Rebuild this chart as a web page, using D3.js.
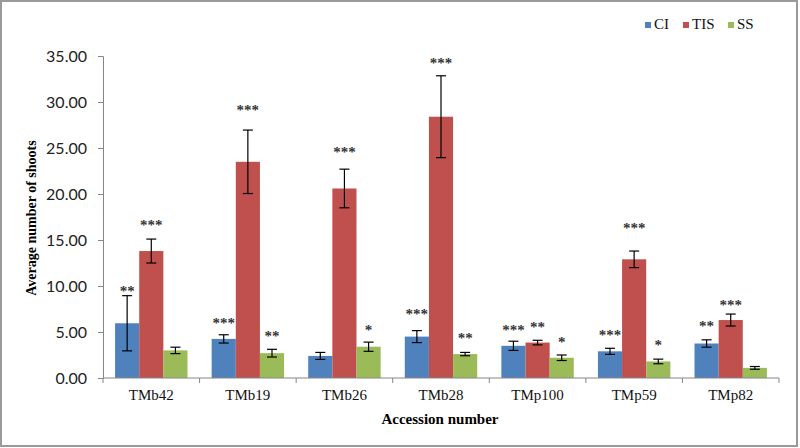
<!DOCTYPE html>
<html lang="en">
<head>
    <meta charset="UTF-8">
    <title>Average number of shoots by accession</title>
    <script src="https://cdnjs.cloudflare.com/ajax/libs/d3/7.8.5/d3.min.js"></script>
    <style>
        body { margin: 0; padding: 0; background: #fff; }
        .axis path, .axis line { stroke: #868686; }
        .serif { font-family: "Liberation Serif", "Times New Roman", serif; }
    </style>
</head>
<body>
    <div id="chart"></div>
    <script>
        const accessions = ["TMb42", "TMb19", "TMb26", "TMb28", "TMp100", "TMp59", "TMp82"];
        const series = ["CI", "TIS", "SS"];
        const colors = ["#4F81BD", "#C0504D", "#9BBB59"];

        const ciMean  = [5.95, 4.25, 2.4, 4.5, 3.5, 2.9, 3.75];
        const ciErr   = [3.0, 0.45, 0.38, 0.65, 0.5, 0.33, 0.4];
        const tisMean = [13.8, 23.5, 20.6, 28.4, 3.85, 12.9, 6.3];
        const tisErr  = [1.3, 3.45, 2.1, 4.45, 0.25, 0.9, 0.65];
        const ssMean  = [3.0, 2.7, 3.4, 2.6, 2.2, 1.8, 1.1];
        const ssErr   = [0.35, 0.42, 0.5, 0.18, 0.3, 0.25, 0.15];

        // significance marks and the value height they sit at
        const ciStars  = ["**", "***", "", "***", "***", "***", "**"];
        const tisStars = ["***", "***", "***", "***", "**", "***", "***"];
        const ssStars  = ["", "**", "*", "**", "*", "*", ""];
        const ciStarAt  = [9.64, 6.23, 0, 7.21, 5.47, 4.92, 5.87];
        const tisStarAt = [16.88, 29.3, 24.78, 34.5, 5.76, 16.52, 8.1];
        const ssStarAt  = [0, 4.78, 5.4, 4.6, 4.13, 3.82, 0];

        const yTicks = [0, 5, 10, 15, 20, 25, 30, 35];

        const means = [ciMean, tisMean, ssMean];
        const errs = [ciErr, tisErr, ssErr];
        const stars = [ciStars, tisStars, ssStars];
        const starAt = [ciStarAt, tisStarAt, ssStarAt];

        const W = 800, H = 448;
        const margin = { top: 56, right: 21, bottom: 70, left: 103 };
        const width = W - margin.left - margin.right;
        const height = H - margin.top - margin.bottom;

        const svg = d3.select("#chart").append("svg")
            .attr("width", W).attr("height", H);

        svg.append("rect")
            .attr("x", 1).attr("y", 1)
            .attr("width", W - 4).attr("height", H - 3)
            .attr("fill", "#fff").attr("stroke", "#9a9a9a").attr("stroke-width", 2);

        const g = svg.append("g")
            .attr("transform", `translate(${margin.left},${margin.top})`);

        const x0 = d3.scaleBand().domain(accessions).range([0, width]).paddingInner(0).paddingOuter(0);
        const x1 = d3.scaleBand().domain(series).range([0, x0.bandwidth()]).paddingOuter(0.5).paddingInner(0);
        const y = d3.scaleLinear().domain([0, 35]).range([height, 0]);

        const rows = [];
        accessions.forEach((a, i) => {
            series.forEach((s, j) => {
                rows.push({ a, s, j, v: means[j][i], e: errs[j][i], star: stars[j][i], sy: starAt[j][i] });
            });
        });

        g.selectAll(".bar").data(rows).enter().append("rect")
            .attr("class", "bar")
            .attr("x", d => x0(d.a) + x1(d.s))
            .attr("y", d => y(d.v))
            .attr("width", x1.bandwidth())
            .attr("height", d => y(0) - y(d.v))
            .attr("fill", d => colors[d.j]);

        // error bars
        const eb = g.selectAll(".err").data(rows).enter().append("g")
            .attr("transform", d => `translate(${x0(d.a) + x1(d.s) + x1.bandwidth() / 2},0)`)
            .attr("stroke", "#000").attr("stroke-width", 1.2);
        eb.append("line").attr("y1", d => y(d.v + d.e)).attr("y2", d => y(d.v - d.e));
        eb.append("line").attr("x1", -5).attr("x2", 5).attr("y1", d => y(d.v + d.e)).attr("y2", d => y(d.v + d.e));
        eb.append("line").attr("x1", -5).attr("x2", 5).attr("y1", d => y(d.v - d.e)).attr("y2", d => y(d.v - d.e));

        g.selectAll(".star").data(rows.filter(d => d.star)).enter().append("text")
            .attr("class", "serif")
            .attr("x", d => x0(d.a) + x1(d.s) + x1.bandwidth() / 2)
            .attr("y", d => y(d.sy) + 7)
            .attr("text-anchor", "middle")
            .attr("font-size", 15).attr("font-weight", "bold").attr("fill", "#333")
            .text(d => d.star);

        // y axis
        const yAxis = g.append("g").attr("class", "axis")
            .call(d3.axisLeft(y).tickValues(yTicks).tickFormat(d3.format(".2f")).tickSize(5).tickPadding(11));
        yAxis.selectAll("text")
            .attr("font-family", "Lato, 'Open Sans', sans-serif")
            .attr("font-size", 16).attr("fill", "#222");

        // x axis: ticks at category boundaries
        const xAxis = g.append("g").attr("class", "axis")
            .attr("transform", `translate(0,${height})`);
        xAxis.append("line").attr("x1", 0).attr("x2", width).attr("stroke", "#868686");
        xAxis.selectAll(".tk").data(d3.range(accessions.length + 1)).enter().append("line")
            .attr("x1", i => i * x0.step()).attr("x2", i => i * x0.step())
            .attr("y1", 0).attr("y2", 5).attr("stroke", "#868686");
        xAxis.selectAll(".lbl").data(accessions).enter().append("text")
            .attr("class", "serif")
            .attr("x", d => x0(d) + x0.bandwidth() / 2)
            .attr("y", 22)
            .attr("text-anchor", "middle")
            .attr("font-size", 15).attr("fill", "#111")
            .text(d => d);

        svg.append("text").attr("class", "serif")
            .attr("x", 440).attr("y", 424)
            .attr("text-anchor", "middle")
            .attr("font-size", 15).attr("font-weight", "bold")
            .text("Accession number");

        svg.append("text").attr("class", "serif")
            .attr("transform", "translate(36,218) rotate(-90)")
            .attr("text-anchor", "middle")
            .attr("font-size", 14).attr("font-weight", "bold")
            .text("Average number of shoots");

        // legend
        const legX = [645, 683, 728];
        const leg = svg.selectAll(".leg").data(series).enter().append("g")
            .attr("transform", (d, i) => `translate(${legX[i]},22)`);
        leg.append("rect").attr("width", 6).attr("height", 6).attr("fill", (d, i) => colors[i]);
        leg.append("text").attr("class", "serif")
            .attr("x", 9).attr("y", 7)
            .attr("font-size", 15).attr("fill", "#111")
            .text(d => d);
    </script>
</body>
</html>
